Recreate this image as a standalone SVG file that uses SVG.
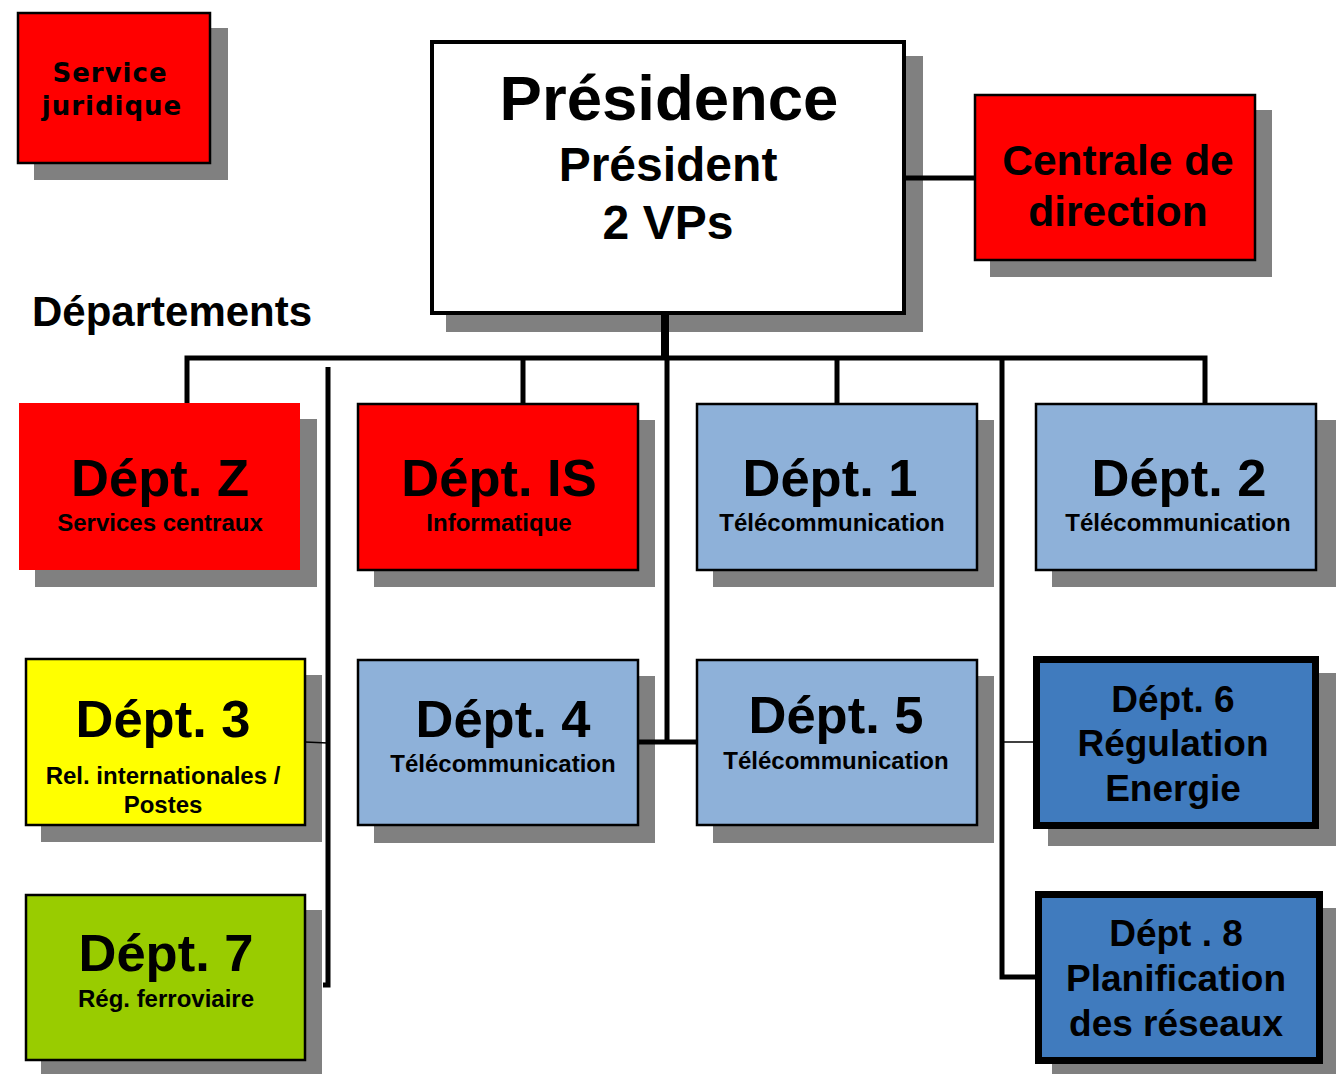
<svg xmlns="http://www.w3.org/2000/svg" width="1336" height="1074" viewBox="0 0 1336 1074">
<style>
text{font-family:"Liberation Sans",Arial,sans-serif;font-weight:bold;fill:#000;text-anchor:middle}
.sh{fill:#808080}
.box{stroke:#000;stroke-width:2.5}
.thick{stroke:#000;stroke-width:7}
.red{fill:#FF0000}
.lb{fill:#8EB1D9}
.db{fill:#407BBE}
.big{font-size:52.5px}
.sm{font-size:24px}
.mid{font-size:37px}
.ln{stroke:#000;fill:none;stroke-width:5}
.thin{stroke:#000;fill:none;stroke-width:1.5}
</style>
<rect width="1336" height="1074" fill="#fff"/>
<g id="service-juridique">
<rect class="sh" x="34" y="28" width="194" height="152"/>
<rect class="box red" x="18" y="13" width="192" height="150"/>
<text x="110" y="82" style="font-family:'DejaVu Sans',Verdana,sans-serif;font-size:26px;letter-spacing:1px">Service</text>
<text x="112" y="115" style="font-family:'DejaVu Sans',Verdana,sans-serif;font-size:26px;letter-spacing:1px">juridique</text>
</g>
<g id="presidence">
<rect class="sh" x="446" y="56" width="477" height="276"/>
<rect x="432" y="42" width="472" height="271" fill="#fff" stroke="#000" stroke-width="4"/>
<text x="669" y="120" style="font-size:63.5px">Présidence</text>
<text x="668" y="181" style="font-size:48px">Président</text>
<text x="668" y="239" style="font-size:48px">2 VPs</text>
</g>
<g id="centrale">
<rect class="sh" x="990" y="110" width="282" height="167"/>
<rect class="box red" x="975" y="95" width="280" height="165"/>
<text x="1118" y="175" style="font-size:42.5px">Centrale de</text>
<text x="1118" y="226" style="font-size:42.5px">direction</text>
</g>
<g id="departements-label">
<text x="32" y="326" style="font-size:42px;text-anchor:start">Départements</text>
</g>
<g id="dept-z">
<rect class="sh" x="35" y="419" width="282" height="168"/>
<rect class="red" x="19" y="403" width="281" height="167"/>
<text class="big" x="160" y="496">Dépt. Z</text>
<text class="sm" x="160" y="531">Services centraux</text>
</g>
<g id="dept-is">
<rect class="sh" x="374" y="420" width="281" height="167"/>
<rect class="box red" x="358" y="404" width="280" height="166"/>
<text class="big" x="499" y="496">Dépt. IS</text>
<text class="sm" x="499" y="531">Informatique</text>
</g>
<g id="dept-1">
<rect class="sh" x="713" y="420" width="281" height="167"/>
<rect class="box lb" x="697" y="404" width="280" height="166"/>
<text class="big" x="830" y="496">Dépt. 1</text>
<text class="sm" x="832" y="531">Télécommunication</text>
</g>
<g id="dept-2">
<rect class="sh" x="1052" y="420" width="284" height="167"/>
<rect class="box lb" x="1036" y="404" width="280" height="166"/>
<text class="big" x="1179" y="496">Dépt. 2</text>
<text class="sm" x="1178" y="531">Télécommunication</text>
</g>
<g id="dept-3">
<rect class="sh" x="41" y="675" width="281" height="167"/>
<rect class="box" fill="#FFFF00" x="26" y="659" width="279" height="166"/>
<text class="big" x="163" y="737">Dépt. 3</text>
<text class="sm" x="163" y="784">Rel. internationales /</text>
<text class="sm" x="163" y="813">Postes</text>
</g>
<g id="dept-4">
<rect class="sh" x="374" y="676" width="281" height="167"/>
<rect class="box lb" x="358" y="660" width="280" height="165"/>
<text class="big" x="503" y="737">Dépt. 4</text>
<text class="sm" x="503" y="772">Télécommunication</text>
</g>
<g id="dept-5">
<rect class="sh" x="713" y="676" width="281" height="167"/>
<rect class="box lb" x="697" y="660" width="280" height="165"/>
<text class="big" x="836" y="733">Dépt. 5</text>
<text class="sm" x="836" y="769">Télécommunication</text>
</g>
<g id="dept-6">
<rect class="sh" x="1048" y="673" width="288" height="173"/>
<rect class="thick db" x="1036.5" y="659.5" width="279" height="166"/>
<text class="mid" x="1173" y="712">Dépt. 6</text>
<text class="mid" x="1173" y="756">Régulation</text>
<text class="mid" x="1173" y="801">Energie</text>
</g>
<g id="dept-7">
<rect class="sh" x="41" y="910" width="281" height="164"/>
<rect class="box" fill="#99CC00" x="26" y="895" width="279" height="165"/>
<text class="big" x="166" y="971">Dépt. 7</text>
<text class="sm" x="166" y="1007">Rég. ferroviaire</text>
</g>
<g id="dept-8">
<rect class="sh" x="1052" y="908" width="284" height="166"/>
<rect class="thick db" x="1038.5" y="894.5" width="281" height="166"/>
<text class="mid" x="1176" y="946">Dépt . 8</text>
<text class="mid" x="1176" y="991">Planification</text>
<text class="mid" x="1176" y="1036">des réseaux</text>
</g>
<g id="connectors">
<line class="ln" x1="905" y1="178" x2="975" y2="178"/>
<line x1="665" y1="315" x2="665" y2="358" stroke="#000" stroke-width="8"/>
<path class="ln" d="M187 403 V358 H1205 V404"/>
<line class="ln" x1="523" y1="358" x2="523" y2="404"/>
<line class="ln" x1="837" y1="358" x2="837" y2="404"/>
<path class="ln" d="M667 358 V742"/>
<line class="ln" x1="638" y1="742" x2="697" y2="742"/>
<path class="ln" d="M1002 358 V977 H1036"/>
<line class="thin" x1="1002" y1="742" x2="1034" y2="742"/>
<path class="ln" d="M328 367 V985 H323"/>
<line class="thin" x1="305" y1="742" x2="328" y2="743"/>
</g>
</svg>
